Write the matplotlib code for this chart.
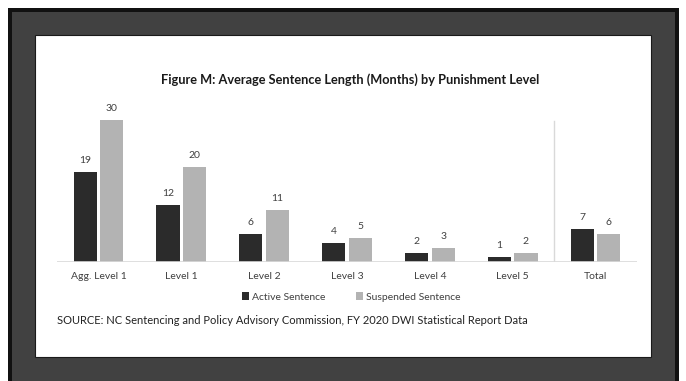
import matplotlib.pyplot as plt
from matplotlib.patches import Rectangle
import numpy as np

categories = ['Agg. Level 1', 'Level 1', 'Level 2', 'Level 3', 'Level 4', 'Level 5', 'Total']
active = [19, 12, 6, 4, 2, 1, 7]
suspended = [30, 20, 11, 5, 3, 2, 6]

W, H = 686, 381
plt.rcParams['font.family'] = ['Lato', 'DejaVu Sans']
text_col = '#404040'


def fx(px):
    return px / W


def fy(py):
    return 1 - py / H


fig = plt.figure(figsize=(W / 100, H / 100), dpi=100)
fig.patch.set_facecolor('white')

# outer frame, gray mat and white card
fig.patches.append(Rectangle((fx(8), 0), fx(679) - fx(8), fy(8), transform=fig.transFigure,
                             facecolor='#111111', edgecolor='none', zorder=-3))
fig.patches.append(Rectangle((fx(12), 0), fx(675) - fx(12), fy(12), transform=fig.transFigure,
                             facecolor='#414141', edgecolor='none', zorder=-2))
fig.patches.append(Rectangle((fx(35), fy(357)), fx(651) - fx(35), fy(35) - fy(357),
                             transform=fig.transFigure, facecolor='white',
                             edgecolor='#1a1a1a', linewidth=0.8, zorder=-1))

ax = fig.add_axes([fx(57), fy(262), fx(637) - fx(57), fy(110) - fy(262)])
ax.set_facecolor('none')
ax.set_zorder(2)

x = np.arange(len(categories))
w = 0.28
off = 0.16
b1 = ax.bar(x - off, active, w, color='#2b2b2b', label='Active Sentence')
b2 = ax.bar(x + off, suspended, w, color='#b3b3b3', label='Suspended Sentence')
for bars in (b1, b2):
    for b in bars:
        ax.annotate(str(int(b.get_height())), (b.get_x() + b.get_width() / 2, b.get_height()),
                    xytext=(0, 5), textcoords='offset points', ha='center', va='bottom',
                    fontsize=7.5, color=text_col)

ax.set_xlim(-0.5, 6.5)
ax.set_ylim(0, 32)
ax.axvline(5.5, ymin=0, ymax=0.93, color='#d9d9d9', linewidth=1)
ax.axhline(0, color='#d9d9d9', linewidth=1.2)

for s in ax.spines.values():
    s.set_visible(False)
ax.set_yticks([])
ax.set_xticks(x)
ax.set_xticklabels(categories, fontsize=7.5, color=text_col)
ax.tick_params(axis='x', length=0, pad=7)

fig.text(fx(350), fy(80), 'Figure M: Average Sentence Length (Months) by Punishment Level',
         ha='center', va='center', fontsize=9.2, fontweight='bold', color='#1a1a1a')

fig.legend(handles=[b1, b2], loc='center', bbox_to_anchor=(fx(351), fy(297)), ncol=2,
           frameon=False, fontsize=7.5, labelcolor=text_col, handlelength=0.7,
           handleheight=0.7, handletextpad=0.3, columnspacing=2.9)

fig.text(fx(57), fy(320), 'SOURCE: NC Sentencing and Policy Advisory Commission, FY 2020 DWI Statistical Report Data',
         ha='left', va='center', fontsize=8, color='#222222')

fig.savefig('out.png', dpi=100)
